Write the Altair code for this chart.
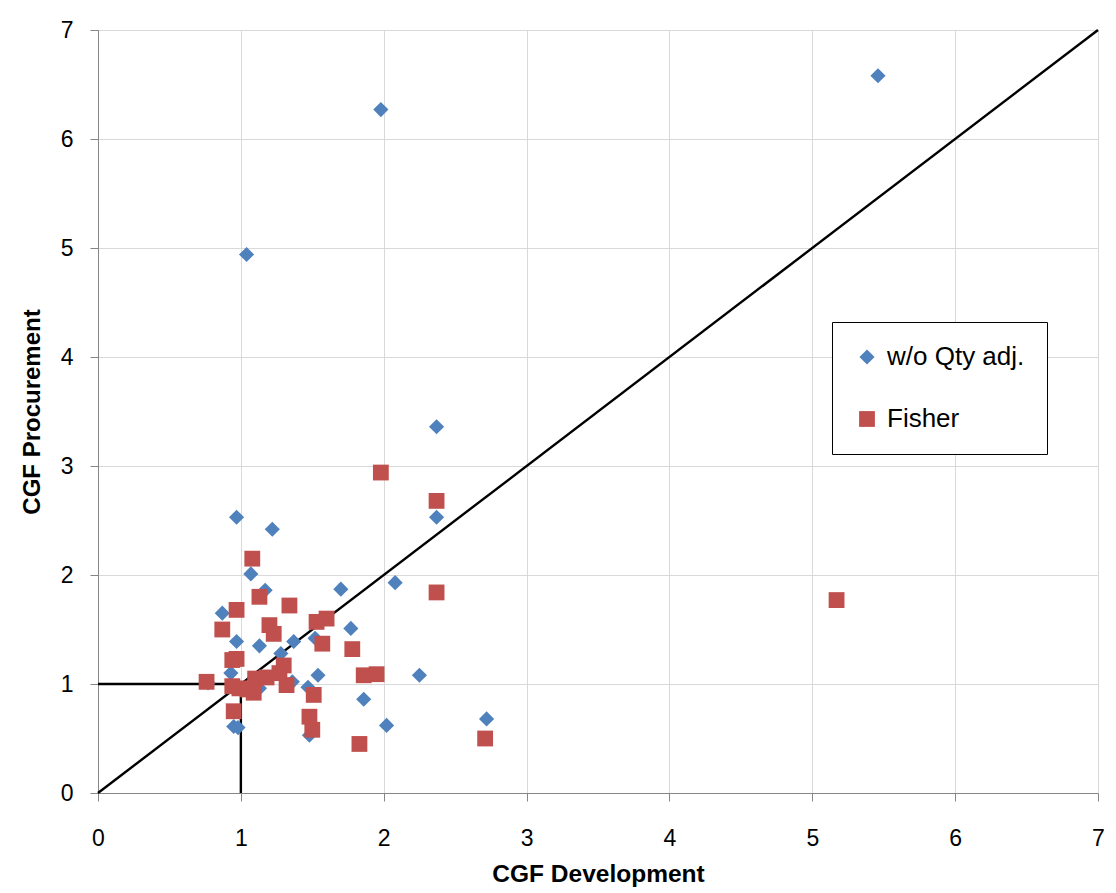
import altair as alt
import pandas as pd

# Series: w/o Qty adj. (blue diamonds)
wo_x = [5.46, 1.98, 1.04, 2.37, 2.37, 0.97, 1.22, 1.07, 1.17, 1.70, 0.87, 1.77,
        2.08, 0.97, 1.13, 1.37, 1.52, 1.28, 0.93, 1.54, 0.77, 1.13, 1.47, 0.95,
        0.98, 1.48, 1.36, 2.25, 1.86, 2.02, 2.72]
wo_y = [6.58, 6.27, 4.94, 3.36, 2.53, 2.53, 2.42, 2.01, 1.86, 1.87, 1.65, 1.51,
        1.93, 1.39, 1.35, 1.39, 1.42, 1.28, 1.10, 1.08, 1.01, 0.96, 0.97, 0.61,
        0.60, 0.53, 1.02, 1.08, 0.86, 0.62, 0.68]

# Series: Fisher (red squares)
fi_x = [5.17, 1.98, 2.37, 2.37, 2.71, 1.08, 1.13, 1.34, 0.97, 1.53, 1.60, 0.87,
        1.20, 1.23, 1.57, 1.78, 0.94, 0.97, 1.30, 1.27, 0.76, 1.10, 1.18, 0.94,
        0.99, 1.05, 1.09, 1.32, 1.51, 0.95, 1.48, 1.50, 1.83, 1.86, 1.95]
fi_y = [1.77, 2.94, 2.68, 1.84, 0.50, 2.15, 1.80, 1.72, 1.68, 1.57, 1.60, 1.50,
        1.54, 1.46, 1.37, 1.32, 1.22, 1.23, 1.17, 1.10, 1.02, 1.05, 1.06, 0.98,
        0.96, 0.95, 0.92, 0.99, 0.90, 0.75, 0.70, 0.58, 0.45, 1.08, 1.09]

# Reference segments: diagonal, horizontal at 1, vertical at 1
seg_x = [0, 0, 1]
seg_y = [0, 1, 0]
seg_x2 = [7, 1, 1]
seg_y2 = [7, 1, 1]

series_names = ["w/o Qty adj.", "Fisher"]
series_colors = ["#4F81BD", "#C0504D"]
series_shapes = ["diamond", "square"]
series_sizes = [230, 250]

pts = pd.concat([
    pd.DataFrame({"x": wo_x, "y": wo_y, "series": series_names[0], "order": 0}),
    pd.DataFrame({"x": fi_x, "y": fi_y, "series": series_names[1], "order": 1}),
])
segs = pd.DataFrame({"x": seg_x, "y": seg_y, "x2": seg_x2, "y2": seg_y2})

FONT = "Liberation Sans"

xscale = alt.Scale(domain=[0, 7], nice=False, zero=True)
yscale = alt.Scale(domain=[0, 7], nice=False, zero=True)

xaxis = alt.Axis(title="CGF Development", values=list(range(8)), format="d",
                 grid=True, gridColor="#D9D9D9", domainColor="#868686",
                 tickColor="#868686", tickSize=8, labelFontSize=23,
                 labelFont=FONT, labelColor="black", labelPadding=26,
                 labelFlush=False,
                 titleFont=FONT, titleFontSize=24.5, titleFontWeight="bold",
                 titleColor="black", titlePadding=12)
yaxis = alt.Axis(title="CGF Procurement", values=list(range(8)), format="d",
                 grid=True, gridColor="#D9D9D9", domainColor="#868686",
                 tickColor="#868686", tickSize=8, labelFontSize=23,
                 labelFont=FONT, labelColor="black", labelPadding=17,
                 labelFlush=False,
                 titleFont=FONT, titleFontSize=24, titleFontWeight="bold",
                 titleColor="black", titlePadding=16)

lines = alt.Chart(segs).mark_rule(color="black", strokeWidth=2.4).encode(
    x=alt.X("x:Q", scale=xscale, axis=xaxis),
    y=alt.Y("y:Q", scale=yscale, axis=yaxis),
    x2="x2:Q",
    y2="y2:Q",
)

points = alt.Chart(pts).mark_point(filled=True, opacity=1).encode(
    x=alt.X("x:Q", scale=xscale),
    y=alt.Y("y:Q", scale=yscale),
    color=alt.Color("series:N",
                    scale=alt.Scale(domain=series_names, range=series_colors),
                    legend=alt.Legend(title=None, orient="none", legendX=734,
                                      legendY=292, strokeColor="black",
                                      fillColor="white", padding=22,
                                      labelFont=FONT, labelFontSize=26,
                                      labelColor="black", rowPadding=36,
                                      symbolSize=200, labelOffset=7,
                                      symbolStrokeWidth=0, labelLimit=300)),
    shape=alt.Shape("series:N",
                    scale=alt.Scale(domain=series_names, range=series_shapes),
                    legend=None),
    size=alt.Size("series:N",
                  scale=alt.Scale(domain=series_names, range=series_sizes),
                  legend=None),
    order=alt.Order("order:Q"),
)

chart = alt.layer(lines, points).properties(
    width=1000, height=763,
    autosize=alt.AutoSizeParams(type="none"),
    padding={"left": 98, "top": 30, "right": 18, "bottom": 100},
).configure_view(stroke=None).configure(background="white")

chart.save("out.html", embed_options={"renderer": "svg", "actions": False})
